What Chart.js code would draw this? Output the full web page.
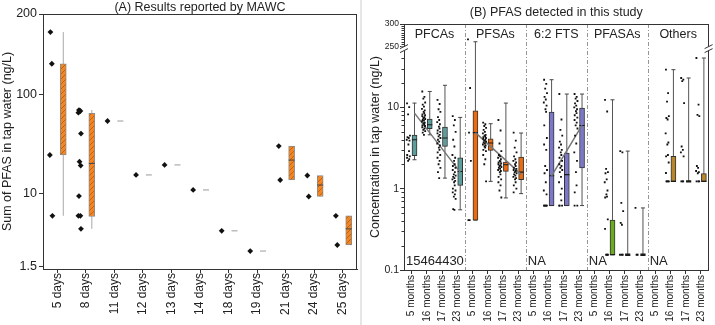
<!DOCTYPE html>
<html>
<head>
<meta charset="utf-8">
<script src="https://cdn.jsdelivr.net/npm/chart.js@4.4.1/dist/chart.umd.min.js"></script>
<style>
  body { margin: 0; background: #fff; width: 715px; height: 325px; position: relative; overflow: hidden; }
  #cA { position: absolute; left: 0; top: 0; }
  #cB { position: absolute; left: 360px; top: 0; }
  #sep { position: absolute; left: 360px; top: 0; width: 2px; height: 325px; background: #e6e6e6; }
</style>
</head>
<body>
<canvas id="cA" width="362" height="325"></canvas>
<div id="sep"></div>
<canvas id="cB" width="355" height="325"></canvas>
<script>
const FONT = "'Liberation Sans', Arial, Helvetica, sans-serif";
const INK = '#222';

// ---- (A) results reported by MAWC
const dayLabels = ['5 days', '8 days', '11 days', '12 days', '13 days', '14 days', '18 days', '19 days', '21 days', '24 days', '25 days'];
const mawcPoints = [
  [171, 130, 24.3, 5.6],
  [69, 67.5, 65, 40, 20.8, 19, 9.3, 5.6, 5.6, 4.0],
  [53.5], [15.3], [19.3], [10.8], [3.8], [2.26],
  [29.9, 13.6], [15.1, 9.2], [5.6, 2.64]
];
const mawcMin = [5.6, 4.0, null, null, null, null, null, null, 13.6, 9.2, 2.64];
const mawcQ1  = [24.3, 5.5, null, null, null, null, null, null, 13.6, 9.2, 2.64];
const mawcMed = [null, 20, 53.5, 15.3, 19.3, 10.8, 3.8, 2.26, 21.6, 12.1, 4.0];
const mawcQ3  = [130, 63.8, null, null, null, null, null, null, 29.9, 15.1, 5.6];
const mawcMax = [171, 69, null, null, null, null, null, null, 29.9, 15.1, 5.6];
const mawcTicks = [1.5, 10, 100, 200];

// ---- (B) PFAS detected in this study
const groupNames = ['PFCAs', 'PFSAs', '6:2 FTS', 'PFASAs', 'Others'];
const groupNotes = ['15464430', '', 'NA', 'NA', 'NA'];
const monthLabels = ['5 months', '16 months', '17 months', '23 months'];
const studyMin = [2.27, 4.6, 1.35, 0.55, 0.41, 1.23, 0.77, 0.87, null, 0.62, 0.62, 0.62, null, 0.154, 0.154, 0.154, null, 1.23, 1.23, 1.23];
const studyQ1  = [2.55, 5.47, 3.31, 1.1, 0.41, 2.96, 1.63, 1.29, null, 0.62, 0.62, 1.8, null, 0.154, 0.154, 0.154, null, 1.23, 1.23, 1.23];
const studyMed = [4.0, 6.12, 4.2, 1.63, 4.9, 3.65, 1.97, 1.6, null, 1.44, 1.49, 6.0, null, 0.154, 0.154, 0.154, null, 1.23, 1.23, 1.23];
const studyQ3  = [4.57, 7.2, 5.74, 2.39, 9.1, 4.12, 2.13, 2.45, null, 8.78, 2.75, 9.83, null, 0.41, 0.154, 0.154, null, 2.5, 1.23, 1.53];
const studyMax = [11.3, 15.7, 18.7, 7.53, 260, 6.3, 11.3, 4.84, null, 21.9, 14.6, 14.6, null, 12.4, 2.9, 0.58, null, 29.1, 23, 40.5];
const studyPoints = [
  [11.2, 10.1, 8.2, 4.5, 4.3, 4.2, 4.0, 3.9, 3.5, 2.9, 2.6, 2.5, 2.4, 2.3, 2.2],
  [15.7, 13.5, 12.8, 11.5, 10.8, 10.2, 9.6, 9.2, 8.8, 8.5, 8.2, 8.0, 7.8, 7.6, 7.4, 7.2, 7.0, 6.9, 6.7, 6.5, 6.4, 6.2, 6.0, 5.9, 5.7, 5.5, 5.3, 5.1, 4.9, 4.6],
  [12.4, 11.0, 9.5, 8.8, 7.6, 7.0, 6.6, 6.2, 5.8, 5.5, 5.2, 5.0, 4.8, 4.6, 4.4, 4.2, 4.0, 3.8, 3.6, 3.4, 3.2, 3.0, 2.8, 2.6, 2.4, 2.2, 2.0, 1.8, 1.6, 1.35],
  [7.8, 7.0, 6.0, 5.0, 4.0, 3.3, 2.6, 2.4, 2.2, 2.0, 1.9, 1.8, 1.7, 1.6, 1.5, 1.45, 1.4, 1.35, 1.3, 1.25, 1.2, 1.1, 1.0, 0.95, 0.9, 0.85, 0.8, 0.75, 0.56, 0.55],
  [265, 17.3, 4.9, 2.2, 0.41, 0.41],
  [6.5, 6.2, 5.9, 5.6, 5.3, 5.0, 4.8, 4.6, 4.5, 4.4, 4.3, 4.2, 4.1, 4.0, 3.9, 3.8, 3.7, 3.6, 3.5, 3.4, 3.3, 3.2, 3.0, 2.9, 2.6, 2.3, 2.0, 1.23],
  [7.0, 5.2, 3.6, 2.9, 2.6, 2.5, 2.4, 2.3, 2.2, 2.15, 2.1, 2.05, 2.0, 1.95, 1.9, 1.85, 1.8, 1.75, 1.7, 1.65, 1.6, 1.5, 1.4, 1.3, 1.2, 1.1, 0.95, 0.78],
  [4.9, 3.9, 3.2, 2.8, 2.5, 2.3, 2.2, 2.1, 2.0, 1.9, 1.8, 1.75, 1.7, 1.65, 1.6, 1.55, 1.5, 1.45, 1.4, 1.35, 1.3, 1.2, 1.1, 1.0, 0.9],
  [],
  [21.9, 19.5, 17, 15, 13.5, 12.5, 11.5, 10.5, 9.5, 8.8, 6.0, 4.2, 3.5, 3.0, 1.9, 1.7, 1.55, 1.2, 0.95, 0.85, 0.62, 0.62, 0.62, 0.62, 0.62],
  [14.6, 7.1, 5.3, 4.5, 3.8, 3.5, 3.2, 3.0, 2.8, 2.6, 2.4, 2.2, 2.0, 1.9, 1.8, 1.7, 1.6, 1.4, 1.2, 1.0, 0.85, 0.72, 0.62, 0.62, 0.62],
  [14.6, 13.5, 12.8, 12, 11.2, 10.5, 10, 9.5, 9.0, 8.5, 8.0, 7.5, 7.0, 6.5, 6.0, 5.5, 4.5, 3.6, 2.8, 2.2, 1.6, 1.1, 0.9, 0.62, 0.62],
  [],
  [12.4, 8.9, 1.75, 1.6, 1.55, 1.3, 1.2, 0.95, 0.85, 0.8, 0.78, 0.42, 0.32, 0.154, 0.154, 0.154],
  [2.9, 2.8, 0.67, 0.53, 0.38, 0.36, 0.154, 0.154, 0.154],
  [0.58, 0.154, 0.154],
  [],
  [29.1, 15, 11.8, 7.8, 7.4, 7.1, 4.8, 3.7, 3.5, 2.6, 2.5, 2.1, 1.56, 1.23, 1.23, 1.23, 1.23],
  [23, 22, 21, 11.3, 3.3, 3.0, 2.8, 2.5, 1.23, 1.23, 1.23],
  [40.5, 10.8, 8.1, 7.8, 1.9, 1.8, 1.65, 1.6, 1.55, 1.23, 1.23, 1.23]
];
const trendFrom = [0, 4, 9];
const trendTo = [3, 7, 11];
const trendFromValue = [8.5, 4.9, 1.44];
const trendToValue = [1.6, 1.5, 6.0];
const studyTicks = [0.1, 1, 10, 250, 300];
const studyMinorTicks = [0.2, 0.3, 0.4, 0.5, 0.6, 0.7, 0.8, 0.9, 2, 3, 4, 5, 6, 7, 8, 9, 20, 30, 40,
  255, 260, 265, 270, 275, 280, 285, 290, 295];

// styling
const groupColors = ['#5d9d9b', '#ec6b10', '#7c77c6', '#6aab22', '#b8862b'];
const jitA = [-0.03, 0.02, -0.05, 0.04, -0.01, 0.03];
const jitB = [-0.1, 0.04, -0.03, 0.09, -0.07, 0.01, -0.12, 0.06, -0.01, 0.03, -0.09, 0.08];

// log axis pieced together from anchors [value, fraction of height]
function pieceLogScale(id, anchors, tickValues) {
  const frac = v => {
    const lv = Math.log10(Math.max(v, anchors[0][0]));
    for (let i = 1; i < anchors.length; i++) {
      if (v <= anchors[i][0]) {
        const l0 = Math.log10(anchors[i - 1][0]), l1 = Math.log10(anchors[i][0]);
        return anchors[i - 1][1] + (lv - l0) / (l1 - l0) * (anchors[i][1] - anchors[i - 1][1]);
      }
    }
    return anchors[anchors.length - 1][1];
  };
  class PieceLog extends Chart.LinearScale {
    determineDataLimits() {
      this.min = anchors[0][0];
      this.max = anchors[anchors.length - 1][0];
    }
    buildTicks() {
      return tickValues.map(v => ({ value: v }));
    }
    getPixelForValue(v) {
      if (v === null || v === undefined || isNaN(v)) return NaN;
      return this.getPixelForDecimal(frac(v));
    }
    getValueForPixel(p) {
      const d = this.getDecimalForPixel(p);
      for (let i = 1; i < anchors.length; i++) {
        if (d <= anchors[i][1]) {
          const t = (d - anchors[i - 1][1]) / (anchors[i][1] - anchors[i - 1][1]);
          const l0 = Math.log10(anchors[i - 1][0]), l1 = Math.log10(anchors[i][0]);
          return Math.pow(10, l0 + t * (l1 - l0));
        }
      }
      return anchors[anchors.length - 1][0];
    }
  }
  PieceLog.id = id;
  return PieceLog;
}

Chart.register(
  pieceLogScale('mawcLog', [[1.45, 0], [1.5, 0.008], [10, 0.297], [100, 0.686], [200, 1]], mawcTicks),
  pieceLogScale('studyLog', [[0.1, 0], [50, 0.892], [250, 0.908], [300, 1]], studyTicks)
);

function hatchPattern() {
  const c = document.createElement('canvas');
  c.width = 5; c.height = 5;
  const g = c.getContext('2d');
  g.fillStyle = '#f5861f';
  g.fillRect(0, 0, 5, 5);
  g.strokeStyle = '#a5521a';
  g.lineWidth = 0.7;
  g.beginPath();
  g.moveTo(0, 5); g.lineTo(5, 0);
  g.moveTo(-1, 1); g.lineTo(1, -1);
  g.moveTo(4, 6); g.lineTo(6, 4);
  g.stroke();
  return g.createPattern(c, 'repeat');
}

function whiskers(lo, hi, off) {
  const out = [];
  lo.forEach((v, i) => {
    if (v === null) return;
    out.push({ x: i + off, y: v }, { x: i + off, y: hi[i] }, { x: i + off, y: null });
  });
  return out;
}

function boxes(q1, q3, off) {
  const out = [];
  q1.forEach((v, i) => {
    if (v !== null && q3[i] > v) out.push({ x: i + off, y: [v, q3[i]] });
  });
  return out;
}

function scatterPoints(lists, off, jit) {
  return lists.flatMap((vals, i) => vals.map((v, k) => ({ x: i + off + jit[k % jit.length], y: v })));
}

function drawFrame(chart, ctx) {
  const a = chart.chartArea;
  ctx.save();
  ctx.strokeStyle = '#333';
  ctx.lineWidth = 1;
  ctx.strokeRect(Math.round(a.left) + 0.5, Math.round(a.top) + 0.5, Math.round(a.right - a.left) - 1, Math.round(a.bottom - a.top));
  ctx.restore();
}

const axisCommon = {
  offset: false,
  grid: { drawOnChartArea: false, offset: false, tickLength: 4, color: '#333' },
  border: { color: '#333' }
};

// ---------- chart A
const medA = [];
const medAColors = [];
mawcMed.forEach((v, i) => {
  if (v === null) return;
  medA.push({ x: i + 0.21, y: v });
  medAColors.push(mawcQ1[i] === null ? '#9a9a9a' : '#444');
});

new Chart(document.getElementById('cA'), {
  type: 'scatter',
  data: {
    datasets: [
      {
        data: scatterPoints(mawcPoints, -0.21, jitA),
        pointStyle: 'rectRot', pointRadius: 2.9,
        pointBackgroundColor: '#111', pointBorderWidth: 0, order: 0
      },
      {
        type: 'line', data: whiskers(mawcMin, mawcMax, 0.21),
        borderColor: '#a8a8a8', borderWidth: 1, pointRadius: 0, spanGaps: false, order: 5
      },
      {
        type: 'bar', data: boxes(mawcQ1, mawcQ3, 0.21),
        backgroundColor: hatchPattern(), borderColor: '#8c8c8c', borderWidth: 1,
        borderSkipped: false, barThickness: 6, order: 3
      },
      {
        data: medA, pointStyle: 'line', pointRadius: 3,
        pointBorderColor: medAColors, pointBorderWidth: 1, order: 2
      }
    ]
  },
  options: {
    responsive: false, animation: false, events: [],
    layout: { padding: { left: 0, right: 3, top: 14, bottom: 0 } },
    plugins: { legend: { display: false }, tooltip: { enabled: false } },
    scales: {
      x: {
        type: 'linear', min: -0.5, max: 10.5, ...axisCommon,
        afterBuildTicks: s => { s.ticks = dayLabels.map((_, i) => ({ value: i })); },
        afterFit: s => { s.height = 56; },
        ticks: {
          autoSkip: false, minRotation: 90, maxRotation: 90, padding: 0, color: INK,
          font: { family: FONT, size: 12 }, callback: v => dayLabels[v]
        }
      },
      y: {
        type: 'mawcLog', ...axisCommon,
        afterFit: s => { s.width = 43; },
        ticks: { autoSkip: false, padding: 2, color: INK, font: { family: FONT, size: 12.5 }, callback: v => String(v) },
        title: {
          display: true, text: 'Sum of PFAS in tap water (ng/L)', color: INK,
          font: { family: FONT, size: 12.5 }, padding: { top: 0, bottom: 0 }
        }
      }
    }
  },
  plugins: [{
    id: 'decorA',
    afterDraw(chart) {
      const ctx = chart.ctx, a = chart.chartArea;
      drawFrame(chart, ctx);
      ctx.save();
      ctx.fillStyle = INK;
      ctx.font = '12.5px ' + FONT;
      ctx.textAlign = 'center';
      ctx.textBaseline = 'middle';
      ctx.fillText('(A) Results reported by MAWC', (a.left + a.right) / 2, 7.5);
      ctx.restore();
    }
  }]
});

// ---------- chart B
const medB = [];
const medBWidth = [];
studyMed.forEach((v, i) => {
  if (v === null) return;
  medB.push({ x: i + 0.19, y: v });
  medBWidth.push(studyQ1[i] === studyQ3[i] ? 2.4 : 1.1);
});
const capsB = [];
studyMin.forEach((v, i) => {
  if (v === null) return;
  capsB.push({ x: i + 0.19, y: v }, { x: i + 0.19, y: studyMax[i] });
});
const trendData = [];
trendFrom.forEach((s, k) => {
  trendData.push({ x: s + 0.19, y: trendFromValue[k] }, { x: trendTo[k] + 0.19, y: trendToValue[k] }, { x: trendTo[k], y: null });
});
const boxB = boxes(studyQ1, studyQ3, 0.19);
const boxBColors = boxB.map(b => groupColors[Math.floor(Math.round(b.x - 0.19) / 4)]);

new Chart(document.getElementById('cB'), {
  type: 'scatter',
  data: {
    datasets: [
      {
        data: scatterPoints(studyPoints, -0.2, jitB),
        pointStyle: 'rect', pointRadius: 1.3,
        pointBackgroundColor: '#111', pointBorderWidth: 0, order: 0
      },
      {
        type: 'line', data: trendData, borderColor: '#777', borderWidth: 1.5,
        pointRadius: 0, spanGaps: false, order: 1
      },
      {
        data: medB, pointStyle: 'line', pointRadius: 2.6,
        pointBorderColor: '#1a1a1a', pointBorderWidth: medBWidth, order: 2
      },
      {
        type: 'bar', data: boxB, backgroundColor: boxBColors, borderColor: '#333',
        borderWidth: 1, borderSkipped: false, barThickness: 5, order: 3
      },
      {
        data: capsB, pointStyle: 'line', pointRadius: 2,
        pointBorderColor: '#444', pointBorderWidth: 1, order: 4
      },
      {
        type: 'line', data: whiskers(studyMin, studyMax, 0.19),
        borderColor: '#555', borderWidth: 1, pointRadius: 0, spanGaps: false, order: 5
      }
    ]
  },
  options: {
    responsive: false, animation: false, events: [],
    layout: { padding: { left: 0, right: 5.5, top: 24, bottom: 0 } },
    plugins: { legend: { display: false }, tooltip: { enabled: false } },
    scales: {
      x: {
        type: 'linear', min: -0.5, max: 19.5, ...axisCommon,
        afterBuildTicks: s => { s.ticks = Array.from({ length: 20 }, (_, i) => ({ value: i })); },
        afterFit: s => { s.height = 55; },
        ticks: {
          autoSkip: false, minRotation: 90, maxRotation: 90, padding: 1, color: INK,
          font: { family: FONT, size: 10 }, callback: v => monthLabels[v % 4]
        }
      },
      y: {
        type: 'studyLog', ...axisCommon,
        afterFit: s => { s.width = 44; },
        ticks: {
          autoSkip: false, padding: 1, color: INK, callback: v => String(v),
          font: c => ({ family: FONT, size: c.tick && c.tick.value >= 250 ? 8.5 : 10.5 })
        },
        title: {
          display: true, text: 'Concentration in tap water (ng/L)', color: INK,
          font: { family: FONT, size: 12.5 }, padding: { top: 8.5, bottom: 0 }
        }
      }
    }
  },
  plugins: [{
    id: 'decorB',
    beforeDatasetsDraw(chart) {
      const ctx = chart.ctx, a = chart.chartArea, x = chart.scales.x;
      ctx.save();
      ctx.strokeStyle = '#8a8a8a';
      ctx.lineWidth = 0.9;
      ctx.setLineDash([4, 2, 1, 2]);
      [3.5, 7.5, 11.5, 15.5].forEach(v => {
        const px = Math.round(x.getPixelForValue(v)) + 0.5;
        ctx.beginPath(); ctx.moveTo(px, a.top); ctx.lineTo(px, a.bottom); ctx.stroke();
      });
      ctx.restore();
    },
    afterDraw(chart) {
      const ctx = chart.ctx, a = chart.chartArea, x = chart.scales.x, y = chart.scales.y;
      drawFrame(chart, ctx);
      ctx.save();
      // minor ticks
      ctx.strokeStyle = '#333';
      ctx.lineWidth = 1;
      studyMinorTicks.forEach(v => {
        const py = Math.round(y.getPixelForValue(v)) + 0.5;
        ctx.beginPath(); ctx.moveTo(a.left - 2.5, py); ctx.lineTo(a.left, py); ctx.stroke();
      });
      // axis break marks
      const yb = (y.getPixelForValue(50) + y.getPixelForValue(250)) / 2;
      [a.left, a.right].forEach(px => {
        ctx.fillStyle = '#fff';
        ctx.fillRect(px - 3, yb - 2, 6, 4);
        ctx.strokeStyle = '#333';
        [-2, 2].forEach(d => {
          ctx.beginPath();
          ctx.moveTo(px - 4, yb + d + 2);
          ctx.lineTo(px + 4, yb + d - 2);
          ctx.stroke();
        });
      });
      // texts
      ctx.fillStyle = INK;
      ctx.textAlign = 'center';
      ctx.textBaseline = 'middle';
      ctx.font = '12.5px ' + FONT;
      ctx.fillText('(B) PFAS detected in this study', (a.left + a.right) / 2, 12.5);
      groupNames.forEach((g, k) => ctx.fillText(g, x.getPixelForValue(k * 4 + 1.5), 35));
      ctx.textAlign = 'left';
      ctx.textBaseline = 'alphabetic';
      ctx.font = '13px ' + FONT;
      groupNotes.forEach((n, k) => {
        if (n) ctx.fillText(n, x.getPixelForValue(k * 4 - 0.5) + 2, 265);
      });
      ctx.restore();
    }
  }]
});
</script>
</body>
</html>
